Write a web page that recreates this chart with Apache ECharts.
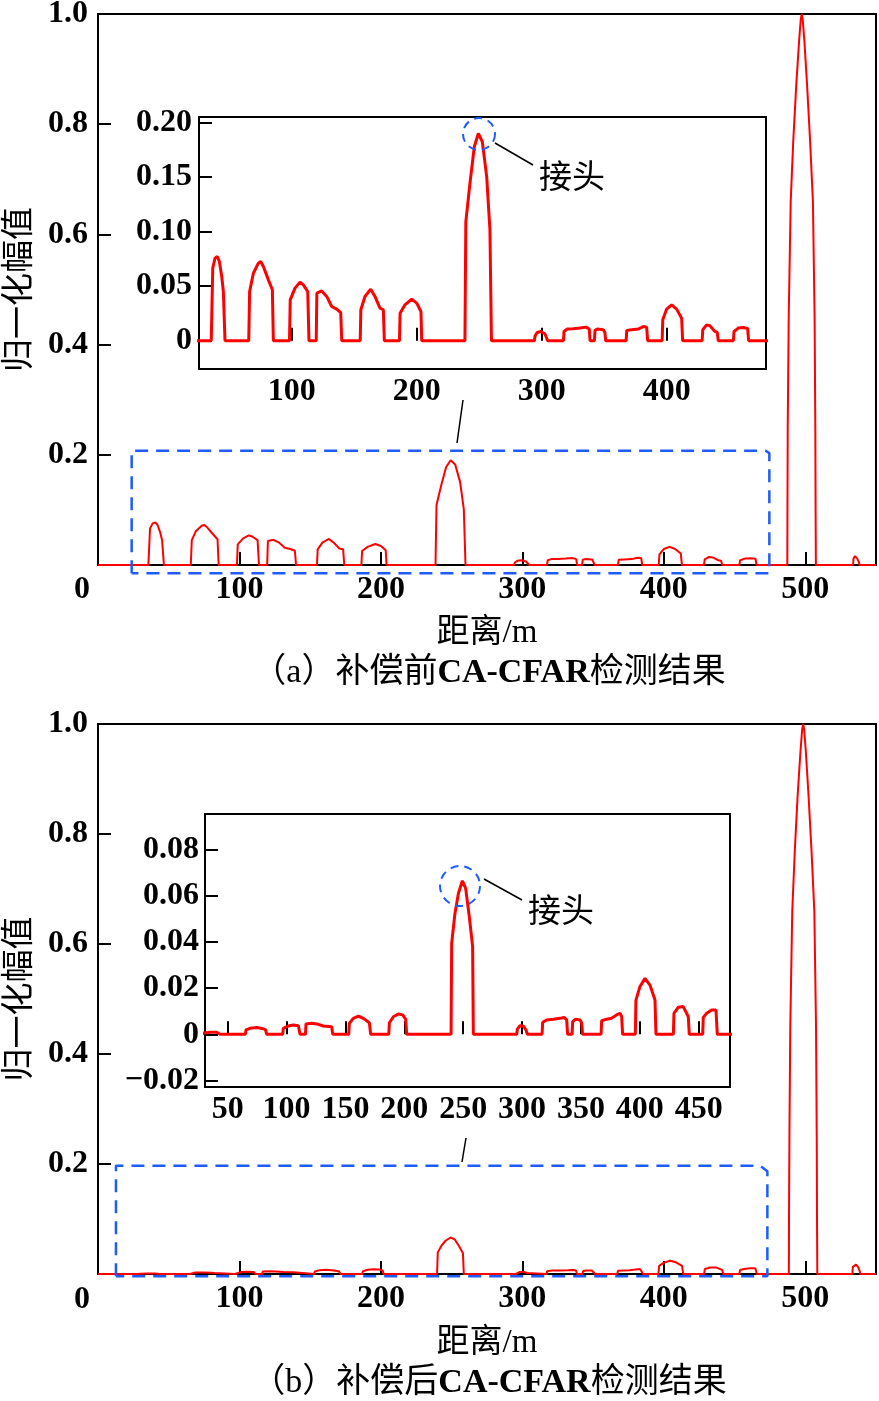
<!DOCTYPE html>
<html>
<head>
<meta charset="utf-8">
<script src="https://cdn.jsdelivr.net/npm/echarts@6/dist/echarts.min.js"></script>
<style>
html, body { margin: 0; padding: 0; background: #fff; }
#chart { width: 879px; height: 1401px; }
</style>
</head>
<body>
<div id="chart"></div>
<script>
// (a) 补偿前 —— 距离/m 与 归一化幅值
var distA = [0,
  35.6, 36.8, 38.6, 40.5, 42.1, 44.0, 45.3, 46.6,
  65.6, 66.3, 69.3, 73.3, 75.2, 77.3, 81.3, 84.5, 85.3,
  98.2, 98.8, 102.6, 106.6, 109.3, 112.8, 113.8,
  119.6, 120.1, 124.0, 128.0, 132.0, 136.0, 139.2, 140.0,
  154.8, 155.3, 158.6, 163.2, 166.6, 170.6, 173.3, 174.1,
  186.2, 186.7, 190.6, 196.0, 200.0, 203.4, 204.0,
  238.6, 239.3, 242.6, 246.1, 249.3, 252.5, 256.0, 258.6, 259.8,
  294.2, 294.7, 296.5, 299.2, 302.6, 304.0, 304.8,
  317.4, 317.9, 320.5, 325.3, 330.6, 335.4, 338.1, 338.7,
  342.2, 342.7, 344.5, 349.3, 350.6, 351.2,
  367.6, 368.1, 372.0, 377.3, 381.3, 384.0, 384.8,
  396.4, 396.9, 400.0, 404.0, 408.0, 412.0, 412.8,
  428.4, 428.9, 432.0, 434.6, 438.6, 440.5, 441.3,
  453.4, 453.9, 457.3, 461.3, 464.8, 465.6,
  487.3, 487.4, 487.6, 488.3, 489.7, 491.5, 493.6, 495.6, 496.8, 497.5, 498.2, 499.4, 501.3, 503.4, 505.4, 506.6, 507.1, 507.3, 507.5,
  533.8, 534.1, 535.2, 536.6, 538.0, 538.3,
  550];
var ampA = [0,
  0, 0.0665, 0.0756, 0.0772, 0.0726, 0.0589, 0.0451, 0,
  0, 0.045, 0.0619, 0.0711, 0.0726, 0.068, 0.0558, 0.0467, 0,
  0, 0.0375, 0.0482, 0.0537, 0.0512, 0.0451, 0,
  0, 0.0436, 0.0457, 0.0406, 0.0314, 0.029, 0.0259, 0,
  0, 0.0284, 0.0406, 0.0473, 0.0406, 0.0299, 0.0284, 0,
  0, 0.0253, 0.0329, 0.0381, 0.0345, 0.0268, 0,
  0, 0.109, 0.1443, 0.1778, 0.19, 0.1824, 0.1504, 0.1016, 0,
  0, 0.0046, 0.0076, 0.0085, 0.0064, 0.0046, 0,
  0, 0.0085, 0.0107, 0.011, 0.0116, 0.0125, 0.0107, 0,
  0, 0.0095, 0.0107, 0.0101, 0.0076, 0,
  0, 0.0095, 0.0101, 0.0107, 0.0131, 0.0125, 0,
  0, 0.0192, 0.029, 0.0329, 0.029, 0.0207, 0,
  0, 0.0101, 0.0146, 0.0137, 0.0085, 0.0076, 0,
  0, 0.0085, 0.0116, 0.0122, 0.0113, 0,
  0, 0.1, 0.25, 0.45, 0.66, 0.77, 0.87, 0.95, 0.99, 1.0, 0.99, 0.95, 0.87, 0.77, 0.66, 0.45, 0.25, 0.1, 0,
  0, 0.012, 0.016, 0.012, 0.005, 0,
  0];

// (b) 补偿后
var distB = [0,
  28.0, 30.0, 35.0, 40.6, 43.5,
  65.0, 65.5, 68.9, 74.6, 80.3, 82.2, 83.1,
  96.7, 97.2, 101.5, 105.7, 110.0, 111.4,
  116.0, 116.5, 121.3, 125.6, 131.2, 138.3, 139.2,
  152.8, 153.3, 156.7, 161.0, 165.2, 170.3, 171.4,
  186.8, 187.3, 190.7, 194.9, 198.6, 201.2, 202.0,
  239.7, 240.2, 243.0, 245.9, 249.3, 252.1, 255.2, 258.0, 258.6,
  295.5, 296.0, 298.2, 301.1, 303.3, 304.5,
  317.0, 317.5, 320.9, 326.5, 332.2, 335.6, 337.9, 338.7,
  342.5, 343.0, 345.5, 349.2, 350.6, 351.4,
  367.1, 367.6, 371.8, 376.1, 380.3, 383.2, 384.6, 385.4,
  396.2, 396.7, 400.1, 404.4, 408.6, 412.9, 413.7,
  428.5, 429.0, 432.7, 436.9, 441.2, 442.0,
  453.4, 453.9, 456.8, 461.0, 464.7, 465.8,
  488.4, 488.5, 488.8, 489.4, 490.8, 492.6, 494.6, 496.6, 497.8, 498.5, 499.2, 500.4, 502.3, 504.4, 506.4, 507.6, 508.1, 508.3, 508.5,
  533.3, 533.6, 535.9, 537.5, 538.5, 538.8,
  550];
var ampB = [0,
  0, 0.0006, 0.0009, 0.0009, 0,
  0, 0.0019, 0.0026, 0.0029, 0.0024, 0.0019, 0,
  0, 0.0026, 0.0036, 0.004, 0.0037, 0,
  0, 0.0045, 0.0048, 0.0045, 0.0036, 0.0033, 0,
  0, 0.0048, 0.0069, 0.0079, 0.0069, 0.005, 0,
  0, 0.005, 0.0076, 0.0088, 0.0084, 0.0065, 0,
  0, 0.0393, 0.0523, 0.0609, 0.0664, 0.0631, 0.0508, 0.0379, 0,
  0, 0.0022, 0.0037, 0.0036, 0.0019, 0,
  0, 0.0052, 0.0062, 0.0065, 0.0069, 0.0073, 0.0062, 0,
  0, 0.0055, 0.0065, 0.0062, 0.005, 0,
  0, 0.0059, 0.0065, 0.0069, 0.0084, 0.0091, 0.0076, 0,
  0, 0.0148, 0.0206, 0.0242, 0.0213, 0.0148, 0,
  0, 0.0091, 0.0117, 0.012, 0.0076, 0,
  0, 0.0073, 0.0091, 0.0105, 0.0105, 0,
  0, 0.1, 0.25, 0.45, 0.66, 0.77, 0.87, 0.95, 0.99, 1.0, 0.99, 0.95, 0.87, 0.77, 0.66, 0.45, 0.25, 0.1, 0,
  0, 0.013, 0.017, 0.012, 0.005, 0,
  0];

// 放大区域虚线框 (数据坐标)
var boxAx = [23.8, 23.8, 472.0, 474.6, 474.6, 23.8];
var boxAy = [-0.015, 0.2074, 0.2074, 0.203, -0.015, -0.015];
var boxBx = [12.7, 12.7, 468.0, 473.2, 473.2, 12.7];
var boxBy = [-0.004, 0.197, 0.197, 0.187, -0.004, -0.004];

// 刻度
var mainXTicks = [100, 200, 300, 400, 500];
var mainYTicks = [0.2, 0.4, 0.6, 0.8, 1.0];
var insetAXTicks = [100, 200, 300, 400];
var insetAYTicks = [0, 0.05, 0.1, 0.15, 0.2];
var insetBXTicks = [50, 100, 150, 200, 250, 300, 350, 400, 450];
var insetBYTicks = [-0.02, 0, 0.02, 0.04, 0.06, 0.08];

var FONT = '"Liberation Serif", "Noto Sans CJK SC", serif';

function pairs(xs, ys) {
  return xs.map(function (x, i) { return [x, ys[i]]; });
}

function xAxisOf(gi, min, max, ticks, margin, name, gap) {
  return {
    type: 'value', gridIndex: gi, min: min, max: max,
    axisLine: { show: false },
    splitLine: { show: false },
    axisTick: { inside: true, length: 13, customValues: ticks, lineStyle: { color: '#000', width: 2 } },
    axisLabel: { customValues: ticks, margin: margin, color: '#000', fontFamily: FONT, fontSize: 32, fontWeight: 'bold' },
    name: name || '', nameLocation: 'middle', nameGap: gap || 0,
    nameTextStyle: { color: '#000', fontFamily: FONT, fontSize: 33 }
  };
}

function yAxisOf(gi, min, max, ticks, margin, fmt, name, gap) {
  return {
    type: 'value', gridIndex: gi, min: min, max: max,
    axisLine: { show: false },
    splitLine: { show: false },
    axisTick: { inside: true, length: 13, customValues: ticks, lineStyle: { color: '#000', width: 2 } },
    axisLabel: { customValues: ticks, margin: margin, color: '#000', fontFamily: FONT, fontSize: 32, fontWeight: 'bold', formatter: fmt },
    name: name || '', nameLocation: 'middle', nameGap: gap || 0, nameRotate: 90,
    nameTextStyle: { color: '#000', fontFamily: FONT, fontSize: 33 }
  };
}

function fmt1(v) { return v.toFixed(1); }
function fmt2(v) { return Math.abs(v) < 1e-9 ? '0' : v.toFixed(2).replace('-', '\u2212'); }

var redMain = { color: '#ff0000', width: 2 };
var redInset = { color: '#ff0000', width: 3 };
var blueDash = { color: '#1f5cff', width: 2.5, type: [13, 8] };

function gridOf(l, t, w, h, bg) {
  return { left: l, top: t, width: w, height: h, outerBoundsMode: 'none', containLabel: false,
    show: true, borderColor: '#000', borderWidth: 2, backgroundColor: bg };
}

var option = {
  animation: false,
  backgroundColor: '#fff',
  grid: [
    gridOf(98, 14, 778, 551, 'transparent'),
    gridOf(199, 117, 567, 252, '#fff'),
    gridOf(98, 724, 778, 550, 'transparent'),
    gridOf(205, 814, 525, 273, '#fff')
  ],
  xAxis: [
    xAxisOf(0, 0, 550, mainXTicks, 9, '距离/m', 52),
    xAxisOf(1, 25.8, 479.5, insetAXTicks, 7),
    xAxisOf(2, 0, 550, mainXTicks, 9, '距离/m', 53),
    xAxisOf(3, 30.7, 476.6, insetBXTicks, 7)
  ],
  yAxis: [
    yAxisOf(0, 0, 1, mainYTicks, 10, fmt1, '归一化幅值', 56),
    yAxisOf(1, -0.0259, 0.2051, insetAYTicks, 7, fmt2),
    yAxisOf(2, 0, 1, mainYTicks, 10, fmt1, '归一化幅值', 56),
    yAxisOf(3, -0.0228, 0.0953, insetBYTicks, 6, fmt2)
  ],
  series: [
    { type: 'line', xAxisIndex: 0, yAxisIndex: 0, data: pairs(distA, ampA), showSymbol: false, lineStyle: redMain, z: 3 },
    { type: 'line', xAxisIndex: 0, yAxisIndex: 0, data: pairs(boxAx, boxAy), showSymbol: false, lineStyle: blueDash, clip: false, z: 4 },
    { type: 'line', xAxisIndex: 1, yAxisIndex: 1, data: pairs(distA, ampA), showSymbol: false, lineStyle: redInset, z: 5 },
    { type: 'line', xAxisIndex: 2, yAxisIndex: 2, data: pairs(distB, ampB), showSymbol: false, lineStyle: redMain, z: 3 },
    { type: 'line', xAxisIndex: 2, yAxisIndex: 2, data: pairs(boxBx, boxBy), showSymbol: false, lineStyle: blueDash, clip: false, z: 4 },
    { type: 'line', xAxisIndex: 3, yAxisIndex: 3, data: pairs(distB, ampB), showSymbol: false, lineStyle: redInset, z: 5 }
  ],
  graphic: [
    { type: 'text', x: 82, y: 590, style: { text: '0', font: 'bold 32px ' + FONT, fill: '#000', align: 'center', verticalAlign: 'middle' } },
    { type: 'text', x: 82, y: 1300, style: { text: '0', font: 'bold 32px ' + FONT, fill: '#000', align: 'center', verticalAlign: 'middle' } },
    // 连接线
    { type: 'line', shape: { x1: 463, y1: 400, x2: 457, y2: 443 }, style: { stroke: '#000', lineWidth: 1.5 } },
    { type: 'line', shape: { x1: 466, y1: 1138, x2: 462, y2: 1162 }, style: { stroke: '#000', lineWidth: 1.5 } },
    // 接头标注
    { type: 'circle', shape: { cx: 479, cy: 134, r: 16 }, style: { fill: 'none', stroke: '#1f5cff', lineWidth: 2, lineDash: [8, 6] }, z: 10 },
    { type: 'line', shape: { x1: 495, y1: 143, x2: 533, y2: 165 }, style: { stroke: '#000', lineWidth: 1.5 }, z: 10 },
    { type: 'text', x: 572, y: 179, style: { text: '接头', font: '33px ' + FONT, fill: '#000', align: 'center', verticalAlign: 'middle' }, z: 10 },
    { type: 'circle', shape: { cx: 460, cy: 886, r: 20 }, style: { fill: 'none', stroke: '#1f5cff', lineWidth: 2, lineDash: [8, 6] }, z: 10 },
    { type: 'line', shape: { x1: 484, y1: 879, x2: 522, y2: 900 }, style: { stroke: '#000', lineWidth: 1.5 }, z: 10 },
    { type: 'text', x: 561, y: 913, style: { text: '接头', font: '33px ' + FONT, fill: '#000', align: 'center', verticalAlign: 'middle' }, z: 10 },
    // 图题
    { type: 'text', x: 489, y: 673, style: {
        text: '{n|（a）补偿前}{b|CA-CFAR}{n|检测结果}', align: 'center', verticalAlign: 'middle',
        rich: { n: { fontFamily: FONT, fontSize: 34, fill: '#000' }, b: { fontFamily: FONT, fontSize: 34, fontWeight: 'bold', fill: '#000' } } } },
    { type: 'text', x: 489, y: 1383, style: {
        text: '{n|（b）补偿后}{b|CA-CFAR}{n|检测结果}', align: 'center', verticalAlign: 'middle',
        rich: { n: { fontFamily: FONT, fontSize: 34, fill: '#000' }, b: { fontFamily: FONT, fontSize: 34, fontWeight: 'bold', fill: '#000' } } } }
  ]
};

var myChart = echarts.init(document.getElementById('chart'));
myChart.setOption(option);
window.addEventListener('resize', function () {
  myChart.resize();
});
</script>
</body>
</html>
